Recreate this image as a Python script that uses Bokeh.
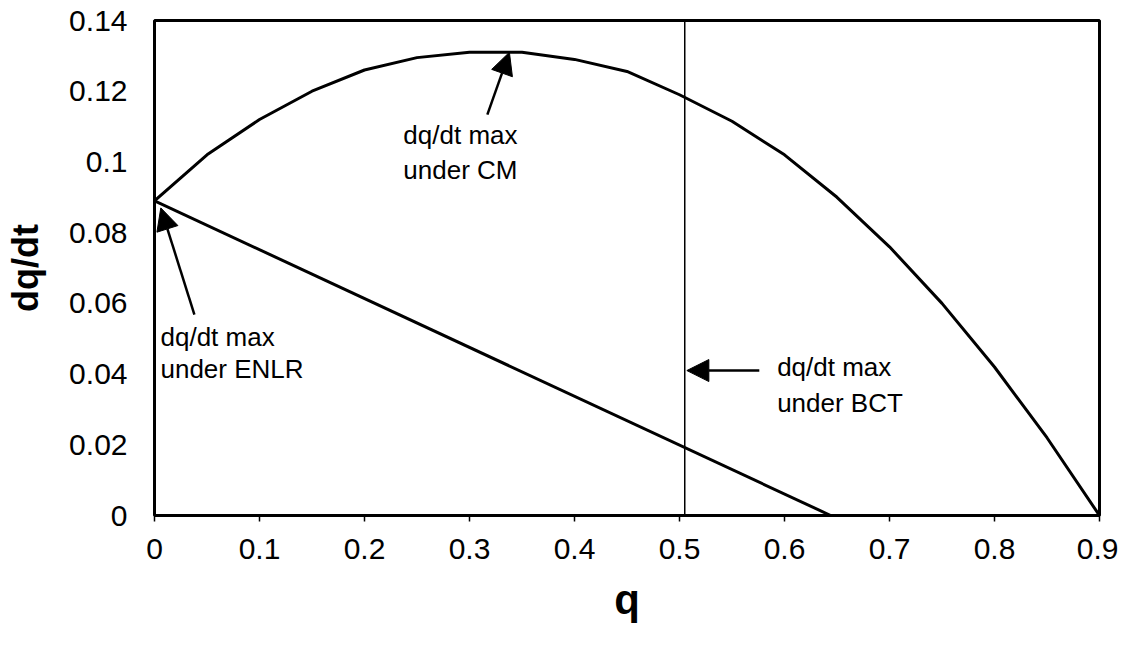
from bokeh.plotting import figure
from bokeh.models import Range1d, Arrow, NormalHead, FixedTicker, Span
from bokeh.core.properties import value
from bokeh.embed import file_html
from bokeh.resources import INLINE

# ---- data ----
q_cm = [0.0, 0.05, 0.1, 0.15, 0.2, 0.25, 0.3, 0.35, 0.4, 0.45, 0.5,
        0.55, 0.6, 0.65, 0.7, 0.75, 0.8, 0.85, 0.9]
dqdt_cm = [0.089, 0.102, 0.112, 0.120, 0.126, 0.1295, 0.131, 0.131, 0.129,
           0.1256, 0.119, 0.1115, 0.102, 0.090, 0.076, 0.060, 0.042, 0.022, 0.0]

q_enlr = [0.0, 0.644]
dqdt_enlr = [0.089, 0.0]

q_bct = 0.505

x_ticks = [0, 0.1, 0.2, 0.3, 0.4, 0.5, 0.6, 0.7, 0.8, 0.9]
x_tick_labels = ["0", "0.1", "0.2", "0.3", "0.4", "0.5", "0.6", "0.7", "0.8", "0.9"]
y_ticks = [0, 0.02, 0.04, 0.06, 0.08, 0.1, 0.12, 0.14]
y_tick_labels = ["0", "0.02", "0.04", "0.06", "0.08", "0.1", "0.12", "0.14"]

ann_text = ["dq/dt max", "under CM", "dq/dt max", "under BCT", "dq/dt max", "under ENLR"]
ann_x = [0.237, 0.237, 0.593, 0.593, 0.0057, 0.0057]
ann_y = [0.1075, 0.0976, 0.0419, 0.0317, 0.0506, 0.0413]

arr_x_start = [0.317, 0.576, 0.038]
arr_y_start = [0.1134, 0.041, 0.0568]
arr_x_end = [0.338, 0.507, 0.006]
arr_y_end = [0.131, 0.041, 0.087]

FONT = "Liberation Sans"

p = figure(width=1118, height=632, output_backend="svg", toolbar_location=None,
           x_range=Range1d(0, 0.9), y_range=Range1d(0, 0.14))
p.min_border_left = 154
p.min_border_right = 19
p.min_border_top = 20
p.min_border_bottom = 117

p.outline_line_color = "black"
p.outline_line_width = 3
p.xgrid.visible = False
p.ygrid.visible = False
p.background_fill_color = "white"
p.border_fill_color = "white"

# x axis
xa = p.xaxis[0]
xa.ticker = FixedTicker(ticks=x_ticks)
xa.major_label_overrides = dict(zip(x_ticks, x_tick_labels))
xa.axis_line_color = None
xa.major_tick_out = 6
xa.major_tick_in = 0
xa.major_tick_line_color = "black"
xa.major_tick_line_width = 1.5
xa.minor_tick_line_color = None
xa.major_label_text_font = FONT
xa.major_label_text_font_size = "30px"
xa.major_label_text_color = "black"
xa.major_label_standoff = 17
xa.axis_label = "q"
xa.axis_label_text_font = FONT
xa.axis_label_text_font_style = "bold"
xa.axis_label_text_font_size = "42px"
xa.axis_label_text_color = "black"
xa.axis_label_standoff = 14

# y axis
ya = p.yaxis[0]
ya.ticker = FixedTicker(ticks=y_ticks)
ya.major_label_overrides = dict(zip(y_ticks, y_tick_labels))
ya.axis_line_color = None
ya.major_tick_out = 0
ya.major_tick_in = 0
ya.minor_tick_line_color = None
ya.major_label_text_font = FONT
ya.major_label_text_font_size = "30px"
ya.major_label_text_color = "black"
ya.major_label_standoff = 27
ya.axis_label = "dq/dt"
ya.axis_label_text_font = FONT
ya.axis_label_text_font_style = "bold"
ya.axis_label_text_font_size = "36px"
ya.axis_label_text_color = "black"
ya.axis_label_standoff = 20

# curves
p.line(q_cm, dqdt_cm, line_color="black", line_width=3)
p.line(q_enlr, dqdt_enlr, line_color="black", line_width=3)
p.add_layout(Span(location=q_bct, dimension="height", line_color="black", line_width=1.5))

# annotations
p.text(x=ann_x, y=ann_y, text=ann_text, text_font=value(FONT), text_font_size="26px",
       text_color="black", text_align="left", text_baseline="alphabetic")

for xs, ys, xe, ye in zip(arr_x_start, arr_y_start, arr_x_end, arr_y_end):
    p.add_layout(Arrow(end=NormalHead(size=22, fill_color="black", line_color="black"),
                       x_start=xs, y_start=ys, x_end=xe, y_end=ye,
                       line_color="black", line_width=2.5))

open("out.html", "w").write(file_html(p, INLINE))
